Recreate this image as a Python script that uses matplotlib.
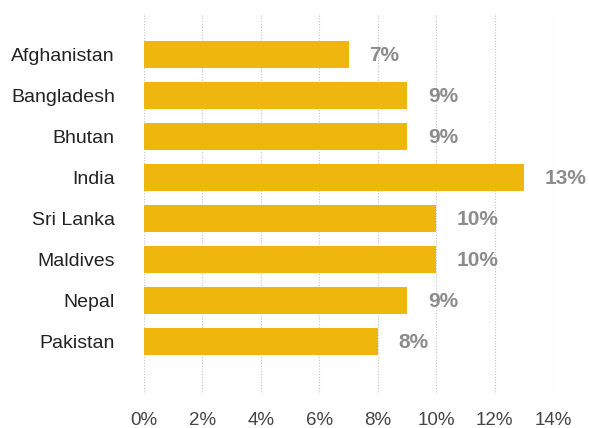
import matplotlib
matplotlib.use("Agg")
import matplotlib.pyplot as plt

countries = ["Afghanistan", "Bangladesh", "Bhutan", "India",
             "Sri Lanka", "Maldives", "Nepal", "Pakistan"]
shares = [7, 9, 9, 13, 10, 10, 9, 8]
x_ticks = [0, 2, 4, 6, 8, 10, 12, 14]
x_tick_labels = ["0%", "2%", "4%", "6%", "8%", "10%", "12%", "14%"]

plt.rcParams["font.family"] = ["Liberation Sans", "DejaVu Sans"]

fig = plt.figure(figsize=(5.89, 4.28), dpi=100)
ax = fig.add_axes([0.2445, 0.0794, 0.6944, 0.8856])

positions = list(range(len(countries)))
ax.barh(positions, shares, height=0.66, color="#EFB60E", zorder=2)

for pos, val in zip(positions, shares):
    ax.annotate(f"{val}%", xy=(val, pos), xytext=(15, -1),
                textcoords="offset points", ha="left", va="center",
                fontsize=15, fontweight="bold", color="#8C8C8C")

ax.set_xlim(0, 14)
ax.set_ylim(8.28, -0.963)
ax.set_xticks(x_ticks)
ax.set_xticklabels(x_tick_labels, fontsize=13.5, color="#444444")
ax.set_yticks(positions)
ax.set_yticklabels(countries, fontsize=14, color="#222222")
ax.tick_params(axis="x", length=0, pad=13)
ax.tick_params(axis="y", length=0, pad=21)

ax.xaxis.grid(True, linestyle=(0, (1, 1.5)), color="#C4C4C4", linewidth=0.8, zorder=0)
ax.yaxis.grid(False)
ax.set_axisbelow(True)
for side in ax.spines.values():
    side.set_visible(False)

fig.savefig("out.png", dpi=100)
